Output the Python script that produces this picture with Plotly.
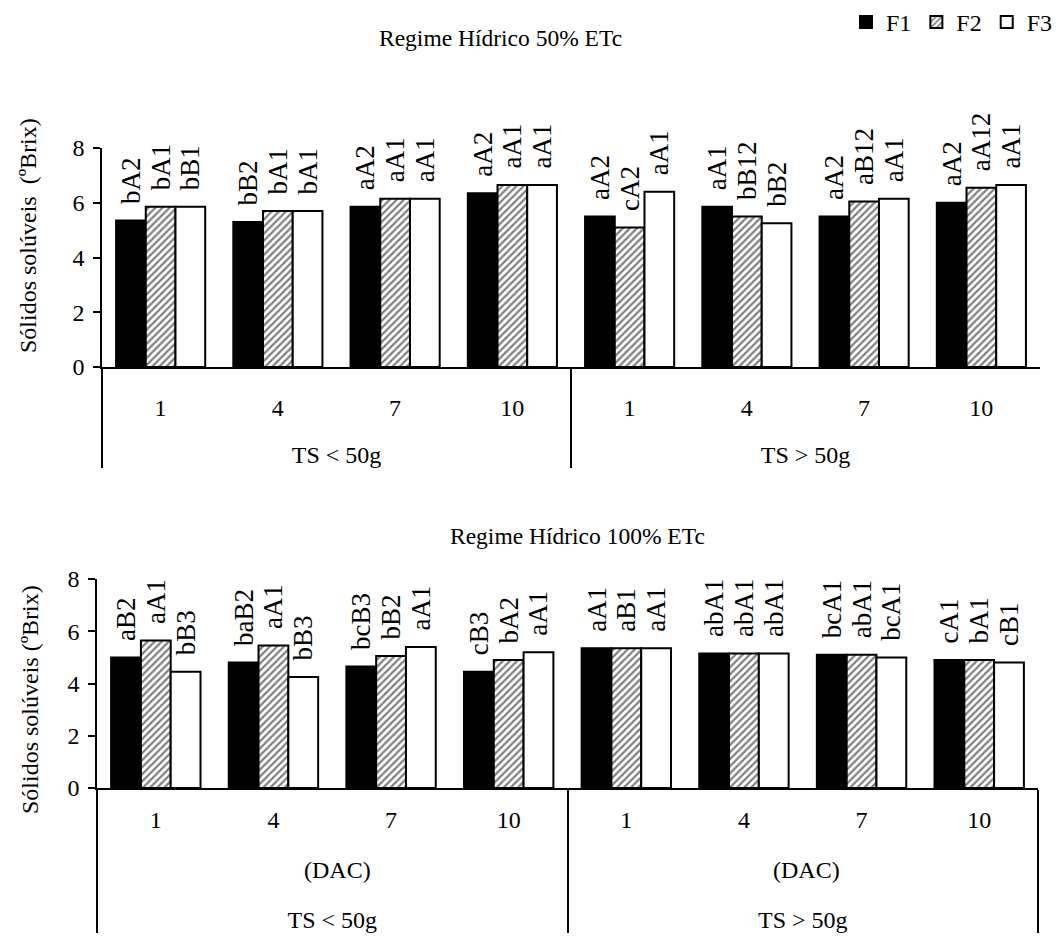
import plotly.graph_objects as go

W, H = 1058, 942
FONT = "Liberation Serif"

dac = ["1", "4", "7", "10"]
ts_groups = ["TS < 50g", "TS > 50g"]
series = ["F1", "F2", "F3"]

# Regime Hídrico 50% ETc
f1_50 = [5.35, 5.3, 5.85, 6.35, 5.5, 5.85, 5.5, 6.0]
f2_50 = [5.85, 5.7, 6.15, 6.65, 5.1, 5.5, 6.05, 6.55]
f3_50 = [5.85, 5.7, 6.15, 6.65, 6.4, 5.25, 6.15, 6.65]
lab1_50 = ["bA2", "bB2", "aA2", "aA2", "aA2", "aA1", "aA2", "aA2"]
lab2_50 = ["bA1", "bA1", "aA1", "aA1", "cA2", "bB12", "aB12", "aA12"]
lab3_50 = ["bB1", "bA1", "aA1", "aA1", "aA1", "bB2", "aA1", "aA1"]

# Regime Hídrico 100% ETc
f1_100 = [5.0, 4.8, 4.65, 4.45, 5.35, 5.15, 5.1, 4.9]
f2_100 = [5.65, 5.45, 5.05, 4.9, 5.35, 5.15, 5.1, 4.9]
f3_100 = [4.45, 4.25, 5.4, 5.2, 5.35, 5.15, 5.0, 4.8]
lab1_100 = ["aB2", "baB2", "bcB3", "cB3", "aA1", "abA1", "bcA1", "cA1"]
lab2_100 = ["aA1", "aA1", "bB2", "bA2", "aB1", "abA1", "abA1", "bA1"]
lab3_100 = ["bB3", "bB3", "aA1", "aA1", "aA1", "abA1", "bcA1", "cB1"]

NB = "\u00a0"


def spaced(label, px):
    # invisible tall spacers enlarge the first label level so the outer level sits lower
    pad = f"<span style='font-size:{px}px'>{NB}</span>"
    return pad + label + pad


outer_top = [g for g in ts_groups for _ in dac]
inner_top = [spaced(d, 57) for d in dac] * len(ts_groups)
outer_bot = [g for g in ts_groups for _ in dac]
inner_bot = [spaced(d, 97) for d in dac] * len(ts_groups)

styles = {
    "F1": dict(color="black", line=dict(color="black", width=2)),
    "F2": dict(color="white", line=dict(color="black", width=2),
               pattern=dict(shape="/", fgcolor="black", bgcolor="white", size=5, solidity=0.45)),
    "F3": dict(color="white", line=dict(color="black", width=2)),
}

fig = go.Figure()


def add(vals, labs, name, xa, ya, outer, inner, show):
    fig.add_trace(go.Bar(
        x=[outer, inner], y=vals, name=name, marker=styles[name],
        text=labs, texttemplate=NB + NB + "%{text}",
        textposition="outside", textangle=-90,
        textfont=dict(family=FONT, size=27, color="black"),
        cliponaxis=False, constraintext="none",
        xaxis=xa, yaxis=ya, showlegend=show,
    ))


for v, l, n in zip([f1_50, f2_50, f3_50], [lab1_50, lab2_50, lab3_50], series):
    add(v, l, n, "x", "y", outer_top, inner_top, True)
for v, l, n in zip([f1_100, f2_100, f3_100], [lab1_100, lab2_100, lab3_100], series):
    add(v, l, n, "x2", "y2", outer_bot, inner_bot, False)

xcommon = dict(type="multicategory", showline=True, linecolor="black", linewidth=1.5,
               ticks="", showdividers=True, dividercolor="black", dividerwidth=1.5,
               tickfont=dict(family=FONT, size=24, color="black"), showgrid=False,
               tickangle=0, automargin=False)
ycommon = dict(range=[0, 8], tickvals=[0, 2, 4, 6, 8], showline=True, linecolor="black",
               linewidth=1.5, ticks="outside", ticklen=7, tickcolor="black", tickwidth=1.5,
               showgrid=False, zeroline=False, ticklabelstandoff=4,
               tickfont=dict(family=FONT, size=24, color="black"), automargin=False)

fig.update_layout(
    width=W, height=H, margin=dict(l=0, r=0, t=0, b=0, autoexpand=False),
    paper_bgcolor="white", plot_bgcolor="white",
    barmode="group", bargap=0.24, bargroupgap=0,
    font=dict(family=FONT, size=24, color="black"),
    xaxis=dict(domain=[102 / W, 1040 / W], anchor="y", ticklabelstandoff=18, **xcommon),
    yaxis=dict(domain=[1 - 367 / H, 1 - 148 / H], anchor="x", **ycommon),
    xaxis2=dict(domain=[97 / W, 1038 / W], anchor="y2", ticklabelstandoff=9, **xcommon),
    yaxis2=dict(domain=[1 - 788 / H, 1 - 579 / H], anchor="x2", **ycommon),
    legend=dict(orientation="h", x=1, xanchor="right", y=1, yanchor="top",
                font=dict(family=FONT, size=24, color="black"), itemwidth=30,
                bgcolor="rgba(0,0,0,0)"),
    annotations=[
        dict(text="Regime Hídrico 50% ETc", x=500 / W, y=1 - 38 / H, xref="paper", yref="paper",
             xanchor="center", yanchor="middle", showarrow=False, font=dict(family=FONT, size=23.5)),
        dict(text="Regime Hídrico 100% ETc", x=577 / W, y=1 - 536 / H, xref="paper", yref="paper",
             xanchor="center", yanchor="middle", showarrow=False, font=dict(family=FONT, size=23.5)),
        dict(text="Sólidos solúveis  (ºBrix)", x=28 / W, y=1 - 236 / H, xref="paper", yref="paper",
             xanchor="center", yanchor="middle",
             showarrow=False, textangle=-90, font=dict(family=FONT, size=24)),
        dict(text="Sólidos solúveis (ºBrix)", x=30 / W, y=1 - 700 / H, xref="paper", yref="paper",
             xanchor="center", yanchor="middle",
             showarrow=False, textangle=-90, font=dict(family=FONT, size=24)),
        dict(text="(DAC)", x=337 / W, y=1 - 870 / H, xref="paper", yref="paper",
             xanchor="center", yanchor="middle", showarrow=False, font=dict(family=FONT, size=24)),
        dict(text="(DAC)", x=806 / W, y=1 - 870 / H, xref="paper", yref="paper",
             xanchor="center", yanchor="middle", showarrow=False, font=dict(family=FONT, size=24)),
    ],
)

fig.write_html("out.html")
